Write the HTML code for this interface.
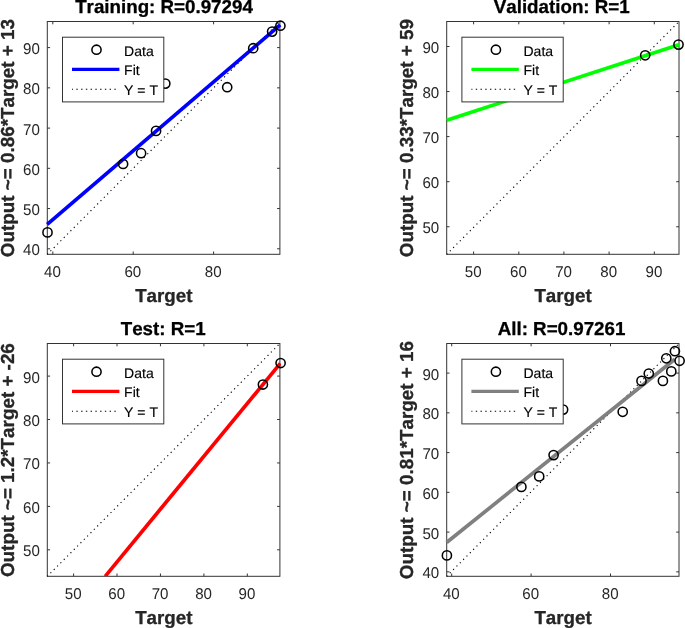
<!DOCTYPE html>
<html><head><meta charset="utf-8"><title>Regression</title>
<style>html,body{margin:0;padding:0;background:#fff}svg{display:block}text{text-rendering:geometricPrecision}</style></head>
<body>
<svg width="685" height="628" viewBox="0 0 685 628">
<rect width="685" height="628" fill="#fff"/>
<g>
<rect x="47.3" y="21.5" width="232.59999999999997" height="232.8" fill="none" stroke="#333333" stroke-width="1.0"/>
<path d="M52.8 254.3v-2.8M52.8 21.5v2.8M133.2 254.3v-2.8M133.2 21.5v2.8M213.6 254.3v-2.8M213.6 21.5v2.8M47.3 47.6h2.8M279.9 47.6h-2.8M47.3 87.85h2.8M279.9 87.85h-2.8M47.3 128.1h2.8M279.9 128.1h-2.8M47.3 168.3h2.8M279.9 168.3h-2.8M47.3 208.55h2.8M279.9 208.55h-2.8M47.3 248.8h2.8M279.9 248.8h-2.8" stroke="#333333" stroke-width="1.0" fill="none"/>
<line x1="47.3" y1="254.3" x2="279.9" y2="21.5" stroke="#000" stroke-width="1.15" stroke-dasharray="1.15 3.5766" stroke-dashoffset="0.27"/>
<line x1="47.2" y1="224.3" x2="280.2" y2="24.9" stroke="#0000ff" stroke-width="3.7"/>
<circle cx="47.5" cy="232.4" r="4.6" fill="none" stroke="#000" stroke-width="1.55"/>
<circle cx="123.1" cy="164.0" r="4.6" fill="none" stroke="#000" stroke-width="1.55"/>
<circle cx="141.1" cy="153.2" r="4.6" fill="none" stroke="#000" stroke-width="1.55"/>
<circle cx="156.05" cy="130.9" r="4.6" fill="none" stroke="#000" stroke-width="1.55"/>
<circle cx="165.3" cy="83.6" r="4.6" fill="none" stroke="#000" stroke-width="1.55"/>
<circle cx="227.2" cy="87.2" r="4.6" fill="none" stroke="#000" stroke-width="1.55"/>
<circle cx="253.2" cy="48.2" r="4.6" fill="none" stroke="#000" stroke-width="1.55"/>
<circle cx="272.1" cy="31.6" r="4.6" fill="none" stroke="#000" stroke-width="1.55"/>
<circle cx="280.4" cy="25.7" r="4.6" fill="none" stroke="#000" stroke-width="1.55"/>
<g font-family="Liberation Sans, sans-serif" font-size="15.6" fill="#262626">
<text x="52.449999999999996" y="276.6" text-anchor="middle" textLength="16.8" lengthAdjust="spacingAndGlyphs">40</text>
<text x="132.85" y="276.6" text-anchor="middle" textLength="16.8" lengthAdjust="spacingAndGlyphs">60</text>
<text x="213.25" y="276.6" text-anchor="middle" textLength="16.8" lengthAdjust="spacingAndGlyphs">80</text>
<text x="39.8" y="54.0" text-anchor="end" textLength="16.8" lengthAdjust="spacingAndGlyphs">90</text>
<text x="39.8" y="94.25" text-anchor="end" textLength="16.8" lengthAdjust="spacingAndGlyphs">80</text>
<text x="39.8" y="134.5" text-anchor="end" textLength="16.8" lengthAdjust="spacingAndGlyphs">70</text>
<text x="39.8" y="174.70000000000002" text-anchor="end" textLength="16.8" lengthAdjust="spacingAndGlyphs">60</text>
<text x="39.8" y="214.95000000000002" text-anchor="end" textLength="16.8" lengthAdjust="spacingAndGlyphs">50</text>
<text x="39.8" y="255.20000000000002" text-anchor="end" textLength="16.8" lengthAdjust="spacingAndGlyphs">40</text>
</g>
<g font-family="Liberation Sans, sans-serif" font-weight="bold" font-size="18.75" text-anchor="middle" stroke-width="0.3" stroke-linejoin="round" style="font-kerning:none">
<text x="164.0" y="13.4" fill="#000" stroke="#000">Training: R=0.97294</text>
<text x="163.79999999999998" y="302.0" fill="#262626" stroke="#262626">Target</text>
<text font-size="18.83" transform="translate(14.399999999999999 138.1) rotate(-90)" fill="#262626" stroke="#262626">Output ~= 0.86*Target + 13</text>
</g>
<rect x="62.5" y="37.2" width="101.3" height="64.7" fill="#fff" stroke="#333333" stroke-width="1.0"/>
<circle cx="96.5" cy="49.7" r="4.6" fill="none" stroke="#000" stroke-width="1.55"/>
<line x1="72.0" y1="69.4" x2="119.39999999999999" y2="69.4" stroke="#0000ff" stroke-width="3.2"/>
<line x1="72.0" y1="89.2" x2="116.8" y2="89.2" stroke="#000" stroke-width="1.15" stroke-dasharray="1.4 3.35" stroke-dashoffset="0.4"/>
<g font-family="Liberation Sans, sans-serif" font-size="14.0" fill="#000" stroke="#000" stroke-width="0.15" style="font-kerning:none">
<text x="124.1" y="55.5">Data</text>
<text x="124.1" y="75.1">Fit</text>
<text x="124.1" y="94.7">Y = T</text>
</g>
</g>
<g>
<rect x="446.7" y="21.5" width="232.3" height="232.8" fill="none" stroke="#333333" stroke-width="1.0"/>
<path d="M473.6 254.3v-2.8M473.6 21.5v2.8M518.8 254.3v-2.8M518.8 21.5v2.8M563.9 254.3v-2.8M563.9 21.5v2.8M609.1 254.3v-2.8M609.1 21.5v2.8M654.3 254.3v-2.8M654.3 21.5v2.8M446.7 46.5h2.8M679.0 46.5h-2.8M446.7 91.56h2.8M679.0 91.56h-2.8M446.7 136.6h2.8M679.0 136.6h-2.8M446.7 181.7h2.8M679.0 181.7h-2.8M446.7 226.75h2.8M679.0 226.75h-2.8" stroke="#333333" stroke-width="1.0" fill="none"/>
<line x1="446.7" y1="254.3" x2="679.0" y2="21.5" stroke="#000" stroke-width="1.15" stroke-dasharray="1.15 3.5766" stroke-dashoffset="0.27"/>
<line x1="446.7" y1="120.3" x2="679.6" y2="44.4" stroke="#00ff00" stroke-width="3.7"/>
<circle cx="645.2" cy="55.3" r="4.6" fill="none" stroke="#000" stroke-width="1.55"/>
<circle cx="678.5" cy="44.6" r="4.6" fill="none" stroke="#000" stroke-width="1.55"/>
<g font-family="Liberation Sans, sans-serif" font-size="15.6" fill="#262626">
<text x="473.25" y="276.6" text-anchor="middle" textLength="16.8" lengthAdjust="spacingAndGlyphs">50</text>
<text x="518.4499999999999" y="276.6" text-anchor="middle" textLength="16.8" lengthAdjust="spacingAndGlyphs">60</text>
<text x="563.55" y="276.6" text-anchor="middle" textLength="16.8" lengthAdjust="spacingAndGlyphs">70</text>
<text x="608.75" y="276.6" text-anchor="middle" textLength="16.8" lengthAdjust="spacingAndGlyphs">80</text>
<text x="653.9499999999999" y="276.6" text-anchor="middle" textLength="16.8" lengthAdjust="spacingAndGlyphs">90</text>
<text x="439.2" y="52.9" text-anchor="end" textLength="16.8" lengthAdjust="spacingAndGlyphs">90</text>
<text x="439.2" y="97.96000000000001" text-anchor="end" textLength="16.8" lengthAdjust="spacingAndGlyphs">80</text>
<text x="439.2" y="143.0" text-anchor="end" textLength="16.8" lengthAdjust="spacingAndGlyphs">70</text>
<text x="439.2" y="188.1" text-anchor="end" textLength="16.8" lengthAdjust="spacingAndGlyphs">60</text>
<text x="439.2" y="233.15" text-anchor="end" textLength="16.8" lengthAdjust="spacingAndGlyphs">50</text>
</g>
<g font-family="Liberation Sans, sans-serif" font-weight="bold" font-size="18.75" text-anchor="middle" stroke-width="0.3" stroke-linejoin="round" style="font-kerning:none">
<text x="561.75" y="13.4" fill="#000" stroke="#000">Validation: R=1</text>
<text x="563.0500000000001" y="302.0" fill="#262626" stroke="#262626">Target</text>
<text font-size="18.83" transform="translate(413.3 138.1) rotate(-90)" fill="#262626" stroke="#262626">Output ~= 0.33*Target + 59</text>
</g>
<rect x="461.9" y="37.2" width="101.3" height="64.7" fill="#fff" stroke="#333333" stroke-width="1.0"/>
<circle cx="495.9" cy="49.7" r="4.6" fill="none" stroke="#000" stroke-width="1.55"/>
<line x1="471.4" y1="69.4" x2="518.8" y2="69.4" stroke="#00ff00" stroke-width="3.2"/>
<line x1="471.4" y1="89.2" x2="516.2" y2="89.2" stroke="#000" stroke-width="1.15" stroke-dasharray="1.4 3.35" stroke-dashoffset="0.4"/>
<g font-family="Liberation Sans, sans-serif" font-size="14.0" fill="#000" stroke="#000" stroke-width="0.15" style="font-kerning:none">
<text x="523.5" y="55.5">Data</text>
<text x="523.5" y="75.1">Fit</text>
<text x="523.5" y="94.7">Y = T</text>
</g>
</g>
<g>
<clipPath id="cP3"><rect x="47.3" y="343.5" width="233.79999999999995" height="232.79999999999995"/></clipPath>
<rect x="47.3" y="343.5" width="232.59999999999997" height="232.79999999999995" fill="none" stroke="#333333" stroke-width="1.0"/>
<path d="M73.6 576.3v-2.8M73.6 343.5v2.8M117.0 576.3v-2.8M117.0 343.5v2.8M160.45 576.3v-2.8M160.45 343.5v2.8M203.9 576.3v-2.8M203.9 343.5v2.8M247.3 576.3v-2.8M247.3 343.5v2.8M47.3 376.1h2.8M279.9 376.1h-2.8M47.3 419.5h2.8M279.9 419.5h-2.8M47.3 462.95h2.8M279.9 462.95h-2.8M47.3 506.4h2.8M279.9 506.4h-2.8M47.3 549.8h2.8M279.9 549.8h-2.8" stroke="#333333" stroke-width="1.0" fill="none"/>
<line x1="47.3" y1="576.3" x2="279.9" y2="343.5" stroke="#000" stroke-width="1.15" stroke-dasharray="1.15 3.5766" stroke-dashoffset="0.27"/>
<line x1="105.2" y1="576.3" x2="280.3" y2="363.3" stroke="#ff0000" stroke-width="3.7" clip-path="url(#cP3)"/>
<circle cx="262.9" cy="384.5" r="4.6" fill="none" stroke="#000" stroke-width="1.55"/>
<circle cx="280.6" cy="363.0" r="4.6" fill="none" stroke="#000" stroke-width="1.55"/>
<g font-family="Liberation Sans, sans-serif" font-size="15.6" fill="#262626">
<text x="73.25" y="598.5999999999999" text-anchor="middle" textLength="16.8" lengthAdjust="spacingAndGlyphs">50</text>
<text x="116.65" y="598.5999999999999" text-anchor="middle" textLength="16.8" lengthAdjust="spacingAndGlyphs">60</text>
<text x="160.1" y="598.5999999999999" text-anchor="middle" textLength="16.8" lengthAdjust="spacingAndGlyphs">70</text>
<text x="203.55" y="598.5999999999999" text-anchor="middle" textLength="16.8" lengthAdjust="spacingAndGlyphs">80</text>
<text x="246.95000000000002" y="598.5999999999999" text-anchor="middle" textLength="16.8" lengthAdjust="spacingAndGlyphs">90</text>
<text x="39.8" y="382.5" text-anchor="end" textLength="16.8" lengthAdjust="spacingAndGlyphs">90</text>
<text x="39.8" y="425.9" text-anchor="end" textLength="16.8" lengthAdjust="spacingAndGlyphs">80</text>
<text x="39.8" y="469.34999999999997" text-anchor="end" textLength="16.8" lengthAdjust="spacingAndGlyphs">70</text>
<text x="39.8" y="512.8" text-anchor="end" textLength="16.8" lengthAdjust="spacingAndGlyphs">60</text>
<text x="39.8" y="556.1999999999999" text-anchor="end" textLength="16.8" lengthAdjust="spacingAndGlyphs">50</text>
</g>
<g font-family="Liberation Sans, sans-serif" font-weight="bold" font-size="18.75" text-anchor="middle" stroke-width="0.3" stroke-linejoin="round" style="font-kerning:none">
<text x="163.2" y="335.4" fill="#000" stroke="#000">Test: R=1</text>
<text x="163.79999999999998" y="624.0" fill="#262626" stroke="#262626">Target</text>
<text font-size="18.83" transform="translate(14.399999999999999 460.09999999999997) rotate(-90)" fill="#262626" stroke="#262626">Output ~= 1.2*Target + -26</text>
</g>
<rect x="62.5" y="359.2" width="101.3" height="64.7" fill="#fff" stroke="#333333" stroke-width="1.0"/>
<circle cx="96.5" cy="371.7" r="4.6" fill="none" stroke="#000" stroke-width="1.55"/>
<line x1="72.0" y1="391.4" x2="119.39999999999999" y2="391.4" stroke="#ff0000" stroke-width="3.2"/>
<line x1="72.0" y1="411.2" x2="116.8" y2="411.2" stroke="#000" stroke-width="1.15" stroke-dasharray="1.4 3.35" stroke-dashoffset="0.4"/>
<g font-family="Liberation Sans, sans-serif" font-size="14.0" fill="#000" stroke="#000" stroke-width="0.15" style="font-kerning:none">
<text x="124.1" y="377.5">Data</text>
<text x="124.1" y="397.1">Fit</text>
<text x="124.1" y="416.7">Y = T</text>
</g>
</g>
<g>
<rect x="446.7" y="343.5" width="232.3" height="232.79999999999995" fill="none" stroke="#333333" stroke-width="1.0"/>
<path d="M451.7 576.3v-2.8M451.7 343.5v2.8M531.1 576.3v-2.8M531.1 343.5v2.8M610.5 576.3v-2.8M610.5 343.5v2.8M446.7 373.1h2.8M679.0 373.1h-2.8M446.7 412.85h2.8M679.0 412.85h-2.8M446.7 452.6h2.8M679.0 452.6h-2.8M446.7 492.35h2.8M679.0 492.35h-2.8M446.7 532.1h2.8M679.0 532.1h-2.8M446.7 571.85h2.8M679.0 571.85h-2.8" stroke="#333333" stroke-width="1.0" fill="none"/>
<line x1="446.7" y1="576.3" x2="679.0" y2="343.5" stroke="#000" stroke-width="1.15" stroke-dasharray="1.15 3.5766" stroke-dashoffset="0.27"/>
<line x1="446.6" y1="542.5" x2="674.8" y2="359.3" stroke="#808080" stroke-width="3.7"/>
<circle cx="446.9" cy="555.4" r="4.6" fill="none" stroke="#000" stroke-width="1.55"/>
<circle cx="521.4" cy="486.9" r="4.6" fill="none" stroke="#000" stroke-width="1.55"/>
<circle cx="539.2" cy="476.4" r="4.6" fill="none" stroke="#000" stroke-width="1.55"/>
<circle cx="553.6" cy="455.1" r="4.6" fill="none" stroke="#000" stroke-width="1.55"/>
<circle cx="563.1" cy="409.6" r="4.6" fill="none" stroke="#000" stroke-width="1.55"/>
<circle cx="622.7" cy="411.8" r="4.6" fill="none" stroke="#000" stroke-width="1.55"/>
<circle cx="641.5" cy="380.9" r="4.6" fill="none" stroke="#000" stroke-width="1.55"/>
<circle cx="648.8" cy="373.5" r="4.6" fill="none" stroke="#000" stroke-width="1.55"/>
<circle cx="662.9" cy="380.9" r="4.6" fill="none" stroke="#000" stroke-width="1.55"/>
<circle cx="671.3" cy="371.4" r="4.6" fill="none" stroke="#000" stroke-width="1.55"/>
<circle cx="666.3" cy="358.3" r="4.6" fill="none" stroke="#000" stroke-width="1.55"/>
<circle cx="679.6" cy="360.8" r="4.6" fill="none" stroke="#000" stroke-width="1.55"/>
<circle cx="674.9" cy="351.2" r="4.6" fill="none" stroke="#000" stroke-width="1.55"/>
<g font-family="Liberation Sans, sans-serif" font-size="15.6" fill="#262626">
<text x="451.34999999999997" y="598.5999999999999" text-anchor="middle" textLength="16.8" lengthAdjust="spacingAndGlyphs">40</text>
<text x="530.75" y="598.5999999999999" text-anchor="middle" textLength="16.8" lengthAdjust="spacingAndGlyphs">60</text>
<text x="610.15" y="598.5999999999999" text-anchor="middle" textLength="16.8" lengthAdjust="spacingAndGlyphs">80</text>
<text x="439.2" y="379.5" text-anchor="end" textLength="16.8" lengthAdjust="spacingAndGlyphs">90</text>
<text x="439.2" y="419.25" text-anchor="end" textLength="16.8" lengthAdjust="spacingAndGlyphs">80</text>
<text x="439.2" y="459.0" text-anchor="end" textLength="16.8" lengthAdjust="spacingAndGlyphs">70</text>
<text x="439.2" y="498.75" text-anchor="end" textLength="16.8" lengthAdjust="spacingAndGlyphs">60</text>
<text x="439.2" y="538.5" text-anchor="end" textLength="16.8" lengthAdjust="spacingAndGlyphs">50</text>
<text x="439.2" y="578.25" text-anchor="end" textLength="16.8" lengthAdjust="spacingAndGlyphs">40</text>
</g>
<g font-family="Liberation Sans, sans-serif" font-weight="bold" font-size="18.75" text-anchor="middle" stroke-width="0.3" stroke-linejoin="round" style="font-kerning:none">
<text x="561.5500000000001" y="335.4" fill="#000" stroke="#000">All: R=0.97261</text>
<text x="563.0500000000001" y="624.0" fill="#262626" stroke="#262626">Target</text>
<text font-size="18.83" transform="translate(412.5 460.09999999999997) rotate(-90)" fill="#262626" stroke="#262626">Output ~= 0.81*Target + 16</text>
</g>
<rect x="461.9" y="359.2" width="101.3" height="64.7" fill="#fff" stroke="#333333" stroke-width="1.0"/>
<circle cx="495.9" cy="371.7" r="4.6" fill="none" stroke="#000" stroke-width="1.55"/>
<line x1="471.4" y1="391.4" x2="518.8" y2="391.4" stroke="#808080" stroke-width="3.2"/>
<line x1="471.4" y1="411.2" x2="516.2" y2="411.2" stroke="#000" stroke-width="1.15" stroke-dasharray="1.4 3.35" stroke-dashoffset="0.4"/>
<g font-family="Liberation Sans, sans-serif" font-size="14.0" fill="#000" stroke="#000" stroke-width="0.15" style="font-kerning:none">
<text x="523.5" y="377.5">Data</text>
<text x="523.5" y="397.1">Fit</text>
<text x="523.5" y="416.7">Y = T</text>
</g>
</g>
</svg>
</body></html>
